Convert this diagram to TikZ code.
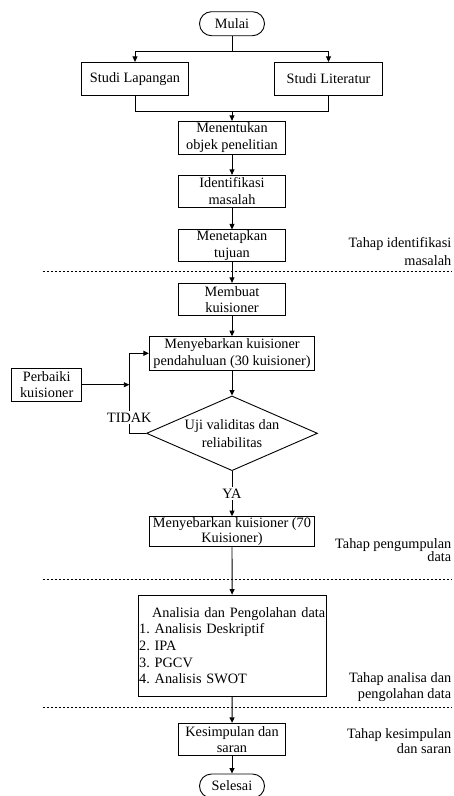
\documentclass[tikz,border=0pt]{standalone}
\usepackage{fontspec}
\setmainfont{Liberation Serif}
\usetikzlibrary{arrows.meta,shapes.geometric}
\begin{document}
\frenchspacing
\begin{tikzpicture}[x=1pt,y=-1pt,
  every node/.style={font=\fontsize{14.3}{16.7}\selectfont, inner sep=1pt},
  box/.style={draw, line width=0.9pt, minimum width=107.7pt, align=center},
  term/.style={draw, line width=0.9pt, rounded corners=12pt, minimum width=65pt, minimum height=24pt},
  link/.style={line width=0.9pt},
  arr/.style={line width=0.9pt, -{Triangle[length=5.5pt,width=5pt]}},
  sep/.style={line width=0.6pt, dash pattern=on 2.5pt off 1.5pt},
  stage/.style={align=right, anchor=east}]
\useasboundingbox (0,0) rectangle (454,796);
\node[term] (mulai) at (232,23.7) {Mulai};
\node[box, minimum height=32.7pt] (lap) at (135,78.7) {Studi Lapangan};
\node[box, minimum height=32.7pt] (lit) at (328.5,78.7) {Studi Literatur};
\node[box, minimum height=33pt] (obj) at (232,137.8) {Menentukan\\objek penelitian};
\node[box, minimum height=32pt] (idn) at (232,191.3) {Identifikasi\\masalah};
\node[box, minimum height=31.3pt] (tuj) at (232,245.7) {Menetapkan\\tujuan};
\node[box, minimum height=32.4pt] (kui) at (232,299.5) {Membuat\\kuisioner};
\node[box, minimum width=165.3pt, minimum height=33.3pt] (sb30) at (232,353.3) {Menyebarkan kuisioner\\pendahuluan (30 kuisioner)};
\node[box, minimum width=70pt, minimum height=32.7pt] (perb) at (46.7,384.7) {Perbaiki\\kuisioner};
\node[draw, line width=0.9pt, diamond, minimum width=171pt, minimum height=74.7pt, inner sep=0pt] (uji) at (232,433.3) {};
\node[align=center, font=\fontsize{14.3}{18.3}\selectfont] (ujitext) at (uji.center) {Uji validitas dan\\reliabilitas};
\node[box, minimum width=165.3pt, minimum height=28.3pt, font=\fontsize{14.3}{14.8}\selectfont] (sb70) at (232,531.5) {Menyebarkan kuisioner (70\\Kuisioner)};
\node[draw, line width=0.9pt, minimum width=188.3pt, minimum height=101.3pt, text width=186pt, align=left] (ana) at (232.2,645.7)
  {\hspace*{\fill}Analisia dan Pengolahan data\hspace*{\fill}\\1. Analisis Deskriptif\\2. IPA\\3. PGCV\\4. Analisis SWOT};
\node[box, minimum height=32.4pt] (kes) at (232,739.5) {Kesimpulan dan\\saran};
\node[term] (sel) at (232,786) {Selesai};
% stage labels
\node[stage, font=\fontsize{14.3}{18.3}\selectfont] (st1) at (452.5,251.5) {Tahap identifikasi\\masalah};
\node[stage, font=\fontsize{14.3}{13.5}\selectfont] (st2) at (452.5,550) {Tahap pengumpulan\\data};
\node[stage] (st3) at (452.5,687) {Tahap analisa dan\\pengolahan data};
\node[stage, font=\fontsize{14.3}{15.7}\selectfont] (st4) at (452.5,741) {Tahap kesimpulan\\dan saran};
% separators
\coordinate (d1a) at (42.7,271.7); \coordinate (d1b) at (452,271.7);
\coordinate (d2a) at (42.7,579);   \coordinate (d2b) at (452,579);
\coordinate (d3a) at (42.7,707);   \coordinate (d3b) at (452,707);
\draw[sep] (d1a) -- (d1b);
\draw[sep] (d2a) -- (d2b);
\draw[sep] (d3a) -- (d3b);
% connectors
\coordinate (split) at (232,51.7);
\coordinate (merge) at (232,111);
\coordinate (fb) at (129.3,433.3);
\draw[link] (mulai.south) -- (split);
\draw[arr] (split) -| (lap.north);
\draw[arr] (split) -| (lit.north);
\draw[link] (lap.south) |- (merge);
\draw[link] (lit.south) |- (merge);
\draw[arr] (merge) -- (obj.north);
\draw[arr] (obj) -- (idn);
\draw[arr] (idn) -- (tuj);
\draw[arr] (tuj) -- (kui);
\draw[arr] (kui) -- (sb30);
\draw[arr] (sb30.south) -- (uji.north);
\draw[arr] (uji.south) -- (sb70.north) node[pos=0.5, fill=white, inner sep=1.5pt] (ya) {YA};
\draw[arr] (sb70) -- (ana);
\draw[arr] (ana) -- (kes);
\draw[arr] (kes) -- (sel);
\draw[arr] (uji.west) -- (fb) |- (sb30.west);
\draw[arr] (perb.east) -- (perb.east -| fb);
\node[fill=white, inner sep=1.5pt] (tidak) at (129.3,417.3) {TIDAK};
\end{tikzpicture}
\end{document}
